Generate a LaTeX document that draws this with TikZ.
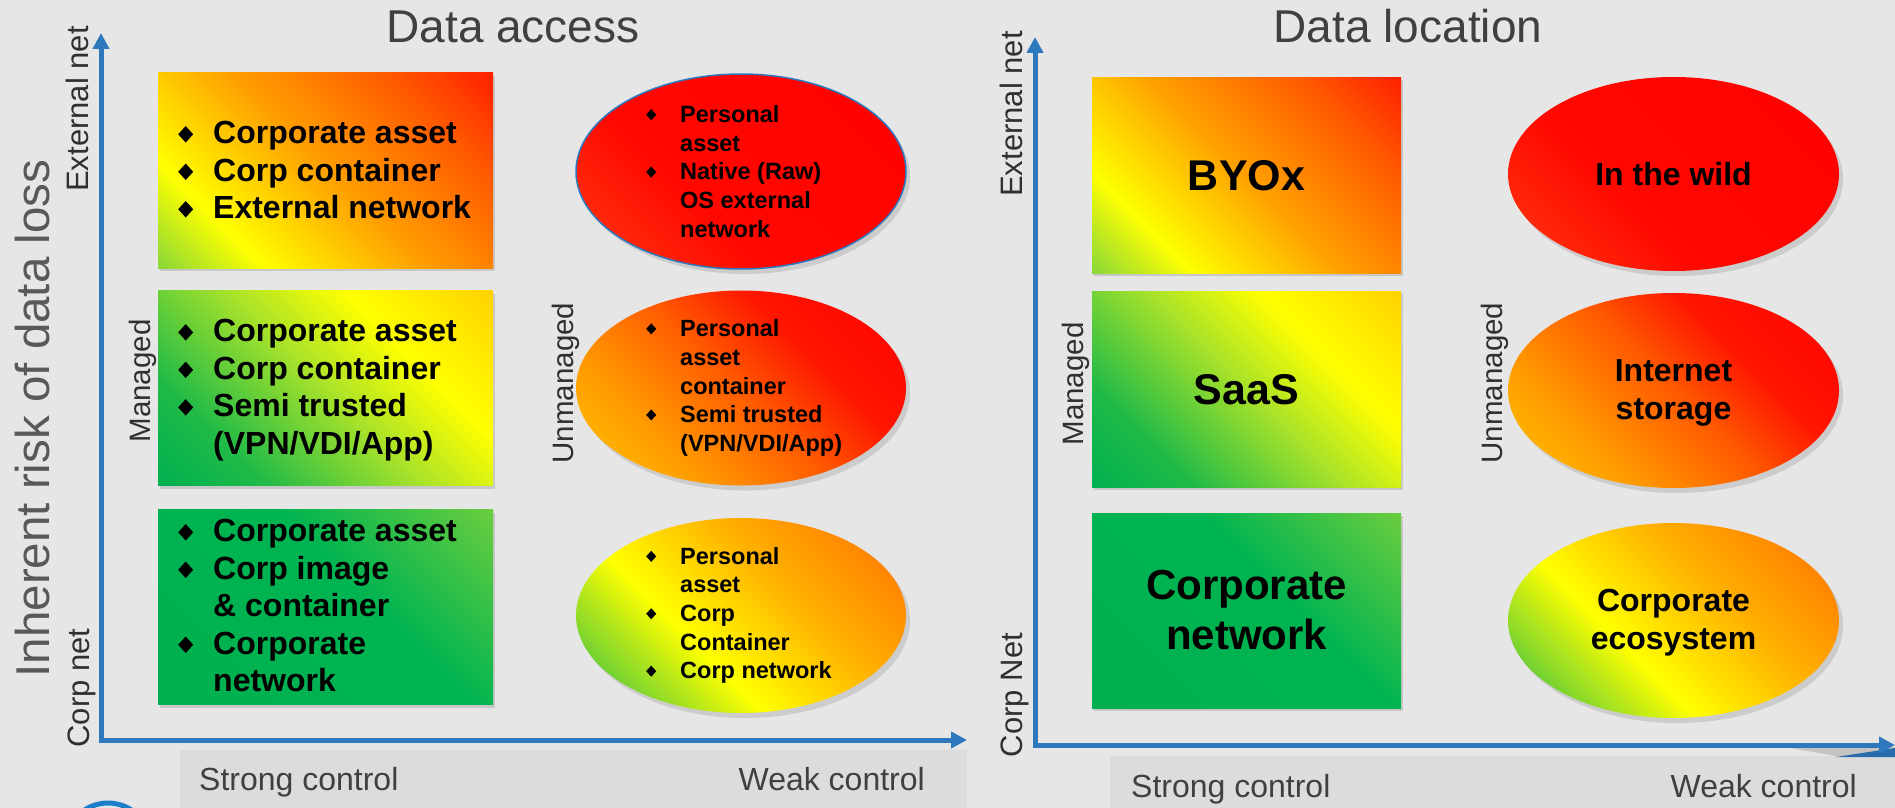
\documentclass[tikz,border=0pt]{standalone}
\usepackage{fontspec}
\setmainfont{Liberation Sans}
\usetikzlibrary{arrows.meta,shapes.geometric,shadows}

\definecolor{bgc}{HTML}{E6E6E6}
\definecolor{bandc}{HTML}{DCDCDC}
\definecolor{axisblue}{HTML}{2E78BE}
\definecolor{ringblue}{HTML}{1B80C8}
\definecolor{titlegray}{HTML}{404040}
\definecolor{labelgray}{HTML}{303030}
\definecolor{riskgray}{HTML}{595959}

% box A (top): green -> yellow -> orange -> red
\definecolor{a0}{HTML}{8AD838}\definecolor{a1}{HTML}{FFFF00}\definecolor{a2}{HTML}{FFA000}
\definecolor{a3}{HTML}{FF5A00}\definecolor{a4}{HTML}{FF2000}
% box B (middle): green -> yellow
\definecolor{b0}{HTML}{00B050}\definecolor{b1}{HTML}{20BA48}\definecolor{b2}{HTML}{A8E22A}
\definecolor{b3}{HTML}{FFFF00}\definecolor{b4}{HTML}{FFD200}
% box C (bottom): green
\definecolor{c0}{HTML}{00B050}\definecolor{c1}{HTML}{00B451}\definecolor{c2}{HTML}{6ACD3E}
% ellipse R (red)
\definecolor{r0}{HTML}{FF3A10}\definecolor{r1}{HTML}{FF0800}\definecolor{r2}{HTML}{FF0000}
% ellipse O (orange->red)
\definecolor{o0}{HTML}{FFC800}\definecolor{o1}{HTML}{FF9A00}\definecolor{o2}{HTML}{FF5A00}
\definecolor{o3}{HTML}{FF1500}\definecolor{o4}{HTML}{FF0000}
% ellipse G (green->yellow->orange)
\definecolor{g0}{HTML}{10B040}\definecolor{g1}{HTML}{7AD430}\definecolor{g2}{HTML}{FFFF00}
\definecolor{g3}{HTML}{FFB000}\definecolor{g4}{HTML}{FF8800}\definecolor{g5}{HTML}{FF7000}

\pgfdeclarehorizontalshading{shA}{100bp}{color(0bp)=(a0); color(14.64bp)=(a0); color(28.8bp)=(a1); color(50bp)=(a2); color(71.2bp)=(a3); color(85.36bp)=(a4); color(100bp)=(a4)}
\pgfdeclarehorizontalshading{shB}{100bp}{color(0bp)=(b0); color(14.64bp)=(b0); color(28.8bp)=(b1); color(50bp)=(b2); color(65.6bp)=(b3); color(85.36bp)=(b4); color(100bp)=(b4)}
\pgfdeclarehorizontalshading{shC}{100bp}{color(0bp)=(c0); color(14.64bp)=(c0); color(57bp)=(c1); color(85.36bp)=(c2); color(100bp)=(c2)}
\pgfdeclarehorizontalshading{shR}{100bp}{color(0bp)=(r0); color(14.64bp)=(r0); color(40bp)=(r1); color(85.36bp)=(r2); color(100bp)=(r2)}
\pgfdeclarehorizontalshading{shO}{100bp}{color(0bp)=(o0); color(14.64bp)=(o0); color(32bp)=(o1); color(50bp)=(o2); color(64bp)=(o3); color(85.36bp)=(o4); color(100bp)=(o4)}
\pgfdeclarehorizontalshading{shG}{100bp}{color(0bp)=(g0); color(14.64bp)=(g0); color(25bp)=(g1); color(40bp)=(g2); color(60bp)=(g3); color(75bp)=(g4); color(85.36bp)=(g5); color(100bp)=(g5)}

% diamond bullets (black diamond suit)
\newcommand\dmd[1]{\scalebox{1}[1.1]{\rotatebox{45}{\rule{#1}{#1}}}}
\newcommand\bul{\makebox[35pt][l]{\raisebox{1pt}{\dmd{10.6pt}}}}
\newcommand\nob{\makebox[35pt]{}}
\newcommand\ebul{\makebox[35pt][l]{\hspace*{1pt}\raisebox{2.3pt}{\dmd{7.1pt}}}}
\newcommand\enob{\makebox[35pt]{}}

\tikzset{
  sq/.style={rectangle, shade, shading angle=45, minimum width=335pt, minimum height=195pt, inner sep=0pt,
    drop shadow={shadow xshift=2pt, shadow yshift=-3pt, opacity=0.3}},
  ov/.style={ellipse, shade, shading angle=45, minimum width=330pt, minimum height=195pt, inner sep=0pt,
    drop shadow={shadow xshift=4pt, shadow yshift=-5pt, opacity=0.25}},
  boxtxt/.style={anchor=west, align=left, inner sep=0pt, font=\fontsize{32}{37.5}\selectfont\bfseries},
  elltxt/.style={anchor=west, align=left, inner sep=0pt, font=\fontsize{23.5}{28.7}\selectfont\bfseries},
  bigtxt/.style={align=center, inner sep=0pt, font=\fontsize{42}{50}\selectfont\bfseries},
  midtxt/.style={align=center, inner sep=0pt, font=\fontsize{32}{37.5}\selectfont\bfseries},
  ttl/.style={anchor=base, inner sep=0pt, text=titlegray, font=\fontsize{46}{50}\selectfont},
  ctl/.style={inner sep=0pt, text=titlegray, font=\fontsize{32}{36}\selectfont},
  axlab/.style={rotate=90, anchor=base, inner sep=0pt, text=labelgray, font=\fontsize{31}{34}\selectfont},
  mglab/.style={rotate=90, anchor=base, inner sep=0pt, text=labelgray, font=\fontsize{29.5}{32}\selectfont},
  axisline/.style={draw=axisblue, line width=5pt, line join=miter,
    {Triangle[length=16pt,width=16pt]}-{Triangle[length=16pt,width=16pt]}},
}

\begin{document}
\begin{tikzpicture}[x=1pt, y=-1pt]
\useasboundingbox (0,0) rectangle (1895,808);
\fill[bgc] (0,0) rectangle (1895,808);

% gray bands
\fill[bandc] (180,750) rectangle (967,808);
\fill[bandc] (1110,756) rectangle (1895,808);

% decorative partial shapes at the edges
\node[circle, draw=ringblue, line width=5pt, minimum size=86pt, inner sep=0pt] (logo) at (108,846) {};
\fill[black, opacity=0.15] (1785,747) -- (1895,747) -- (1895,756) -- (1836,756) -- cycle;
\fill[axisblue!90!black] (1836,757) -- (1895,748) -- (1895,757) -- cycle;

% ---------- titles ----------
\node[ttl] (t1) at (513,43) {Data access};
\node[ttl] (t2) at (1408,43) {Data location};

% ---------- left axes ----------
\coordinate (lo) at (101,740);
\coordinate (ltop) at (101,33);
\coordinate (lright) at (967,740);
\draw[axisline] (ltop) -- (lo) -- (lright);

% ---------- right axes ----------
\coordinate (ro) at (1035,745);
\coordinate (rtop) at (1035,37);
\coordinate (rright) at (1895,745);
\draw[axisline] (rtop) -- (ro) -- (rright);

% ---------- axis labels ----------
\node[axlab, text=riskgray, font=\fontsize{47.5}{50}\selectfont] (risk) at (49,418.5) {Inherent risk of data loss};
\node[axlab] (lext) at (88,109) {External net};
\node[axlab] (lcorp) at (89,688) {Corp net};
\node[mglab] (lman) at (150,381) {Managed};
\node[mglab] (lunm) at (573,383) {Unmanaged};
\node[axlab] (rext) at (1022,114) {External net};
\node[axlab] (rcorp) at (1022,695) {Corp Net};
\node[mglab] (rman) at (1083,384) {Managed};
\node[mglab] (runm) at (1502,383) {Unmanaged};

\node[ctl, anchor=base west] (ls) at (199,790) {Strong control};
\node[ctl, anchor=base east] (lw) at (925,790) {Weak control};
\node[ctl, anchor=base west] (rs) at (1131,797) {Strong control};
\node[ctl, anchor=base east] (rw) at (1857,797) {Weak control};

% ---------- left boxes ----------
\node[sq, shading=shA] (b1) at (325.5,170.5) {};
\node[sq, shading=shB] (b2) at (325.5,388) {};
\node[sq, shading=shC] (b3) at (325.5,607) {};
\node[boxtxt] (b1t) at (178,170) {\bul Corporate asset\\\bul Corp container\\\bul External network};
\node[boxtxt] (b2t) at (178,390) {\bul Corporate asset\\\bul Corp container\\\bul Semi trusted\\\nob (VPN/VDI/App)};
\node[boxtxt] (b3t) at (178,605.5) {\bul Corporate asset\\\bul Corp image\\\nob \& container\\\bul Corporate\\\nob network};

% ---------- left ellipses ----------
\node[ov, shading=shR, draw=axisblue, line width=1.5pt] (e1) at (741,171.5) {};
\node[ov, shading=shO] (e2) at (741,388) {};
\node[ov, shading=shG] (e3) at (741,615.5) {};
\node[elltxt] (e1t) at ([xshift=-96pt]e1.center) {\ebul Personal\\\enob asset\\\ebul Native (Raw)\\\enob OS external\\\enob network};
\node[elltxt] (e2t) at ([xshift=-96pt]e2.center) {\ebul Personal\\\enob asset\\\enob container\\\ebul Semi trusted\\\enob (VPN/VDI/App)};
\node[elltxt] (e3t) at ([xshift=-96pt]e3.center) {\ebul Personal\\\enob asset\\\ebul Corp\\\enob Container\\\ebul Corp network};

% ---------- right boxes ----------
\node[sq, shading=shA, minimum width=309pt, minimum height=196pt] (r1) at (1246.5,175) {};
\node[sq, shading=shB, minimum width=309pt, minimum height=196pt] (r2) at (1246.5,389) {};
\node[sq, shading=shC, minimum width=309pt, minimum height=195pt] (r3) at (1246.5,610.5) {};
\node[bigtxt, anchor=base, font=\fontsize{43}{48}\selectfont\bfseries] (r1t) at (1246.5,190) {BYOx};
\node[bigtxt, anchor=base, font=\fontsize{43}{48}\selectfont\bfseries] (r2t) at (1246.5,404) {SaaS};
\node[bigtxt] (r3t) at (1246.5,610) {Corporate\\network};

% ---------- right ellipses ----------
\node[ov, shading=shR, minimum width=331pt, minimum height=194pt] (q1) at (1673.5,174) {};
\node[ov, shading=shO, minimum width=331pt, minimum height=195pt] (q2) at (1673.5,390.5) {};
\node[ov, shading=shG, minimum width=331pt, minimum height=195pt] (q3) at (1673.5,620.5) {};
\node[midtxt, anchor=base] (q1t) at (1673.5,185.5) {In the wild};
\node[midtxt] (q2t) at (1673.5,393) {Internet\\storage};
\node[midtxt] (q3t) at (1673.5,622.5) {Corporate\\ecosystem};
\end{tikzpicture}
\end{document}
